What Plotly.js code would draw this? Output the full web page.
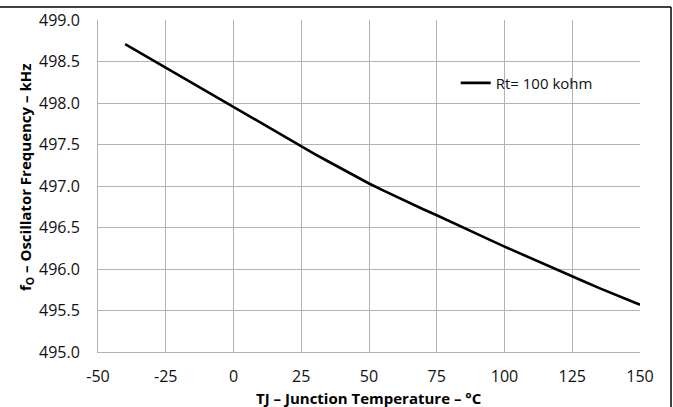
<!DOCTYPE html>
<html>
<head>
<meta charset="utf-8">
<script src="https://cdn.plot.ly/plotly-3.0.1.min.js"></script>
<style>html,body{margin:0;padding:0;background:#fff;}#chart{width:673px;height:407px;}</style>
</head>
<body>
<div id="chart"></div>
<script>
var temperature = [-40,-35,-30,-25,-20,-15,-10,-5,0,5,10,15,20,25,30,35,40,45,50,55,60,65,70,75,80,85,90,95,100,105,110,115,120,125,130,135,140,145,150];
var frequency = [498.71,498.615,498.52,498.43,498.33,498.24,498.145,498.05,497.955,497.86,497.765,497.67,497.57,497.476,497.385,497.295,497.205,497.115,497.03,496.95,496.87,496.795,496.72,496.648,496.57,496.495,496.42,496.345,496.27,496.197,496.125,496.052,495.98,495.91,495.84,495.77,495.705,495.637,495.57];
var seriesName = 'Rt= 100 kohm';
var xTickVals = [-50,-25,0,25,50,75,100,125,150];
var yTickVals = [495.0,495.5,496.0,496.5,497.0,497.5,498.0,498.5,499.0];

var trace = {
  x: temperature, y: frequency, type: 'scatter', mode: 'lines', name: seriesName,
  line: {color: '#000', width: 2.6}
};
var tickFont = {family: 'Open Sans, sans-serif', size: 16, color: '#111'};
var titleFont = {family: 'Open Sans, sans-serif', size: 15, color: '#000', weight: 'bold'};
var layout = {
  width: 673, height: 407,
  margin: {l: 98, r: 33, t: 20, b: 55},
  paper_bgcolor: '#fff', plot_bgcolor: '#fff',
  showlegend: true,
  legend: {x: 0.66, y: 0.81, xanchor: 'left', yanchor: 'middle', bgcolor: 'rgba(0,0,0,0)',
           font: {family: 'Open Sans, sans-serif', size: 15, color: '#111'}, itemwidth: 30, tracegroupgap: 0},
  xaxis: {range: [-50,150], tickvals: xTickVals, ticktext: xTickVals.map(String), showgrid: true, gridcolor: '#b3b3b3', gridwidth: 1,
          zeroline: false, showline: true, linecolor: '#b3b3b3', linewidth: 1, ticks: '', tickfont: tickFont, ticklabelstandoff: 10},
  yaxis: {range: [495,499], tickvals: yTickVals, ticktext: yTickVals.map(function(v){return v.toFixed(1);}), showgrid: true, gridcolor: '#b3b3b3', gridwidth: 1,
          zeroline: false, showline: true, linecolor: '#b3b3b3', linewidth: 1, ticks: '', tickfont: tickFont, ticklabelstandoff: 14},
  annotations: [
    {text: 'TJ – Junction Temperature – °C', xref: 'paper', yref: 'paper', x: 0.5, y: (352-398)/332,
     xanchor: 'center', yanchor: 'middle', showarrow: false, font: titleFont},
    {text: 'f<sub>O</sub> – Oscillator Frequency – kHz', xref: 'paper', yref: 'paper', x: (26-98)/542, y: (352-178)/332,
     xanchor: 'center', yanchor: 'middle', textangle: -90, showarrow: false, font: titleFont}
  ],
  shapes: [
    {type: 'line', xref: 'paper', yref: 'paper', x0: -98/542, x1: (671-98)/542, y0: (352-7)/332, y1: (352-7)/332, line: {color: '#000', width: 1.5}},
    {type: 'line', xref: 'paper', yref: 'paper', x0: (671-98)/542, x1: (671-98)/542, y0: (352-7)/332, y1: (352-410)/332, line: {color: '#000', width: 1.5}}
  ]
};
Plotly.newPlot('chart', [trace], layout, {displayModeBar: false, staticPlot: true});
</script>
</body>
</html>
